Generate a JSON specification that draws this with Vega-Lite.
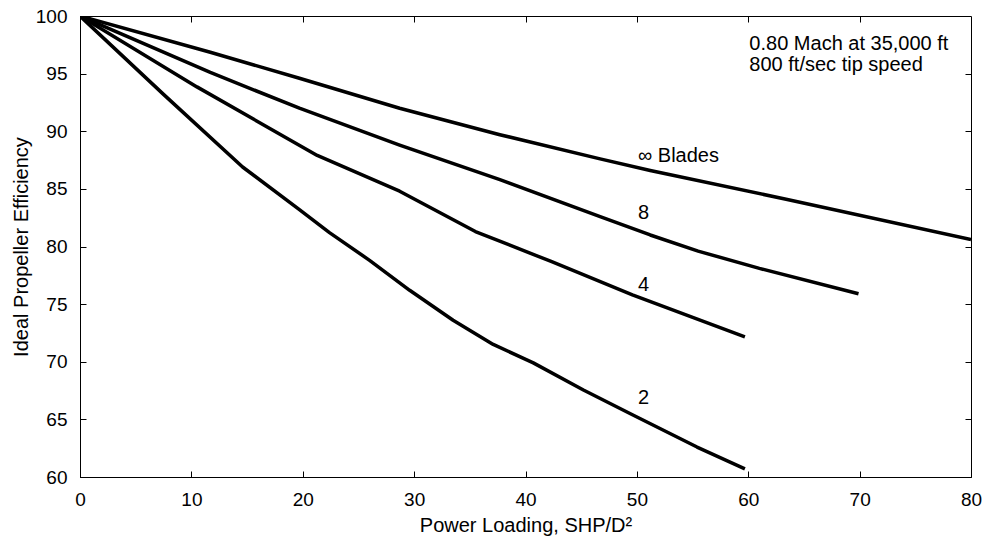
{
  "$schema": "https://vega.github.io/schema/vega-lite/v6.json",
  "width": 891,
  "height": 461,
  "autosize": {"type": "none"},
  "padding": {"left": 80, "top": 16, "right": 14, "bottom": 65},
  "background": "white",
  "config": {
    "view": {"stroke": "black", "strokeWidth": 1},
    "font": "Liberation Sans",
    "axis": {
      "grid": false,
      "domainColor": "black",
      "tickColor": "black",
      "labelColor": "black",
      "titleColor": "black",
      "labelFont": "Liberation Sans",
      "titleFont": "Liberation Sans",
      "labelFontSize": 19,
      "titleFontSize": 20,
      "titleFontWeight": "normal",
      "labelFlush": false,
      "labelOverlap": false,
      "tickSize": -6
    }
  },
  "datasets": {
    "curves": [
      {"blades": "inf", "shp": 0, "eff": 100},
      {"blades": "inf", "shp": 11.7, "eff": 96.85},
      {"blades": "inf", "shp": 19.7, "eff": 94.6},
      {"blades": "inf", "shp": 28.7, "eff": 92.0},
      {"blades": "inf", "shp": 37.7, "eff": 89.7},
      {"blades": "inf", "shp": 46.7, "eff": 87.6},
      {"blades": "inf", "shp": 51.2, "eff": 86.6},
      {"blades": "inf", "shp": 63.4, "eff": 84.1},
      {"blades": "inf", "shp": 80, "eff": 80.6},
      {"blades": "8", "shp": 0, "eff": 100},
      {"blades": "8", "shp": 11.7, "eff": 95.1},
      {"blades": "8", "shp": 19.7, "eff": 92.0},
      {"blades": "8", "shp": 28.7, "eff": 88.8},
      {"blades": "8", "shp": 37.7, "eff": 85.8},
      {"blades": "8", "shp": 46.7, "eff": 82.6},
      {"blades": "8", "shp": 51.2, "eff": 81.0},
      {"blades": "8", "shp": 55.5, "eff": 79.6},
      {"blades": "8", "shp": 61.0, "eff": 78.1},
      {"blades": "8", "shp": 69.9, "eff": 75.9},
      {"blades": "4", "shp": 0, "eff": 100},
      {"blades": "4", "shp": 10.5, "eff": 93.85},
      {"blades": "4", "shp": 21.3, "eff": 87.9},
      {"blades": "4", "shp": 28.7, "eff": 84.8},
      {"blades": "4", "shp": 35.5, "eff": 81.3},
      {"blades": "4", "shp": 42.3, "eff": 78.7},
      {"blades": "4", "shp": 49.6, "eff": 75.8},
      {"blades": "4", "shp": 59.7, "eff": 72.15},
      {"blades": "2", "shp": 0, "eff": 100},
      {"blades": "2", "shp": 7.5, "eff": 93.2},
      {"blades": "2", "shp": 14.6, "eff": 86.9},
      {"blades": "2", "shp": 19.7, "eff": 83.2},
      {"blades": "2", "shp": 22.4, "eff": 81.2},
      {"blades": "2", "shp": 26.0, "eff": 78.8},
      {"blades": "2", "shp": 29.6, "eff": 76.2},
      {"blades": "2", "shp": 33.5, "eff": 73.6},
      {"blades": "2", "shp": 37.1, "eff": 71.5},
      {"blades": "2", "shp": 40.7, "eff": 69.9},
      {"blades": "2", "shp": 45.2, "eff": 67.55},
      {"blades": "2", "shp": 49.6, "eff": 65.4},
      {"blades": "2", "shp": 55.4, "eff": 62.6},
      {"blades": "2", "shp": 59.7, "eff": 60.7}
    ],
    "labels": [
      {"text": "∞ Blades", "shp": 50.1, "eff": 87.36},
      {"text": "8", "shp": 50.1, "eff": 82.4},
      {"text": "4", "shp": 50.1, "eff": 76.15},
      {"text": "2", "shp": 50.1, "eff": 66.35},
      {"text": "0.80 Mach at 35,000 ft", "shp": 60.1, "eff": 97.05},
      {"text": "800 ft/sec tip speed", "shp": 60.1, "eff": 95.2}
    ]
  },
  "layer": [
    {
      "data": {"name": "curves"},
      "mark": {"type": "line", "color": "black", "strokeWidth": 3.5, "strokeJoin": "round", "strokeCap": "butt", "clip": true},
      "encoding": {
        "x": {
          "field": "shp", "type": "quantitative",
          "scale": {"domain": [0, 80], "nice": false, "zero": false},
          "axis": {"orient": "bottom", "values": [0, 10, 20, 30, 40, 50, 60, 70, 80], "title": "Power Loading, SHP/D²", "labelPadding": 19, "titlePadding": 6}
        },
        "y": {
          "field": "eff", "type": "quantitative",
          "scale": {"domain": [60, 100], "nice": false, "zero": false},
          "axis": {"orient": "left", "values": [60, 65, 70, 75, 80, 85, 90, 95, 100], "title": "Ideal Propeller Efficiency", "labelPadding": 19, "titlePadding": 4}
        },
        "detail": {"field": "blades"}
      }
    },
    {
      "data": {"name": "labels"},
      "mark": {"type": "text", "align": "left", "baseline": "alphabetic", "fontSize": 20, "font": "Liberation Sans", "color": "black"},
      "encoding": {
        "x": {"field": "shp", "type": "quantitative", "axis": {"orient": "top", "values": [10, 20, 30, 40, 50, 60, 70], "labels": false, "title": null, "domain": false}},
        "y": {"field": "eff", "type": "quantitative", "axis": {"orient": "right", "values": [65, 70, 75, 80, 85, 90, 95], "labels": false, "title": null, "domain": false}},
        "text": {"field": "text"}
      }
    }
  ],
  "resolve": {"axis": {"x": "independent", "y": "independent"}}
}
